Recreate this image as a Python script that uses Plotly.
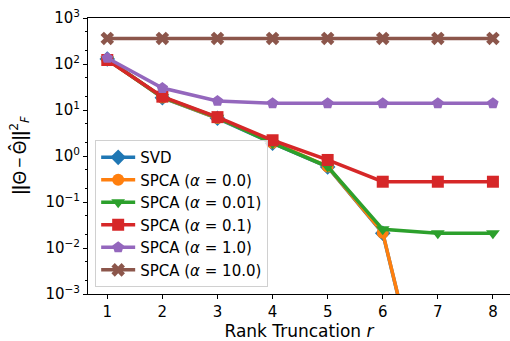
import plotly.graph_objects as go

ranks = [1, 2, 3, 4, 5, 6, 7, 8]

svd = [128, 18.5, 6.6, 1.9, 0.58, 0.021, 2.5e-7, 1e-7]
spca_0 = [125, 18.8, 6.7, 1.95, 0.59, 0.0215, 2.5e-7, 1e-7]
spca_001 = [125, 19.0, 6.8, 1.9, 0.59, 0.0255, 0.021, 0.021]
spca_01 = [122, 19.5, 7.0, 2.2, 0.82, 0.276, 0.276, 0.276]
spca_1 = [135, 30, 15.7, 14.0, 14.0, 14.0, 14.0, 14.0]
spca_10 = [360, 360, 360, 360, 360, 360, 360, 360]

series = [
    ("SVD", svd, "#1f77b4", "diamond"),
    ("SPCA (<i>α</i> = 0.0)", spca_0, "#ff7f0e", "circle"),
    ("SPCA (<i>α</i> = 0.01)", spca_001, "#2ca02c", "triangle-down"),
    ("SPCA (<i>α</i> = 0.1)", spca_01, "#d62728", "square"),
    ("SPCA (<i>α</i> = 1.0)", spca_1, "#9467bd", "pentagon"),
    ("SPCA (<i>α</i> = 10.0)", spca_10, "#8c564b", "x"),
]

ytick_vals = [1e-3, 1e-2, 1e-1, 1, 10, 100, 1000]
ytick_text = ["10<sup>−3</sup>", "10<sup>−2</sup>", "10<sup>−1</sup>",
              "10<sup>0</sup>", "10<sup>1</sup>", "10<sup>2</sup>", "10<sup>3</sup>"]

fig = go.Figure()
for name, vals, color, sym in series:
    fig.add_trace(go.Scatter(
        x=ranks, y=vals, name=name, mode="lines+markers",
        line=dict(color=color, width=3.5),
        marker=dict(symbol=sym, size=12, color=color, line=dict(width=0)),
    ))

font = "DejaVu Sans"
fig.update_layout(
    width=510, height=341,
    margin=dict(l=88, r=0, t=18, b=47),
    paper_bgcolor="white", plot_bgcolor="white",
    font=dict(family=font, size=15, color="black"),
    showlegend=True,
    legend=dict(
        x=0.017, y=0.025, xanchor="left", yanchor="bottom",
        bgcolor="rgba(255,255,255,0.8)", bordercolor="#d0d0d0", borderwidth=1,
        font=dict(family=font, size=15), tracegroupgap=0, itemwidth=34,
    ),
)
fig.update_xaxes(
    range=[0.65, 8.31], tickvals=ranks, showgrid=False, zeroline=False,
    showline=True, linecolor="black", linewidth=1, mirror=True,
    ticks="outside", ticklen=4, tickcolor="black",
    title=dict(text="Rank Truncation <i>r</i>", font=dict(size=17), standoff=4),
)
fig.update_yaxes(
    type="log", range=[-3, 3], tickvals=ytick_vals, ticktext=ytick_text,
    showgrid=False, zeroline=False, showline=True, linecolor="black", linewidth=1,
    ticks="outside", ticklen=4, tickcolor="black",
    minor=dict(ticks="outside", ticklen=2, tickcolor="black", showgrid=False),
    title=dict(text="<b>‖</b>Θ\u2009−\u2009Θ\u0302<b>‖</b><sup>2</sup><sub><i>F</i></sub>",
               font=dict(size=18, family="Noto Sans"), standoff=14),
)

fig.write_html("out.html")
